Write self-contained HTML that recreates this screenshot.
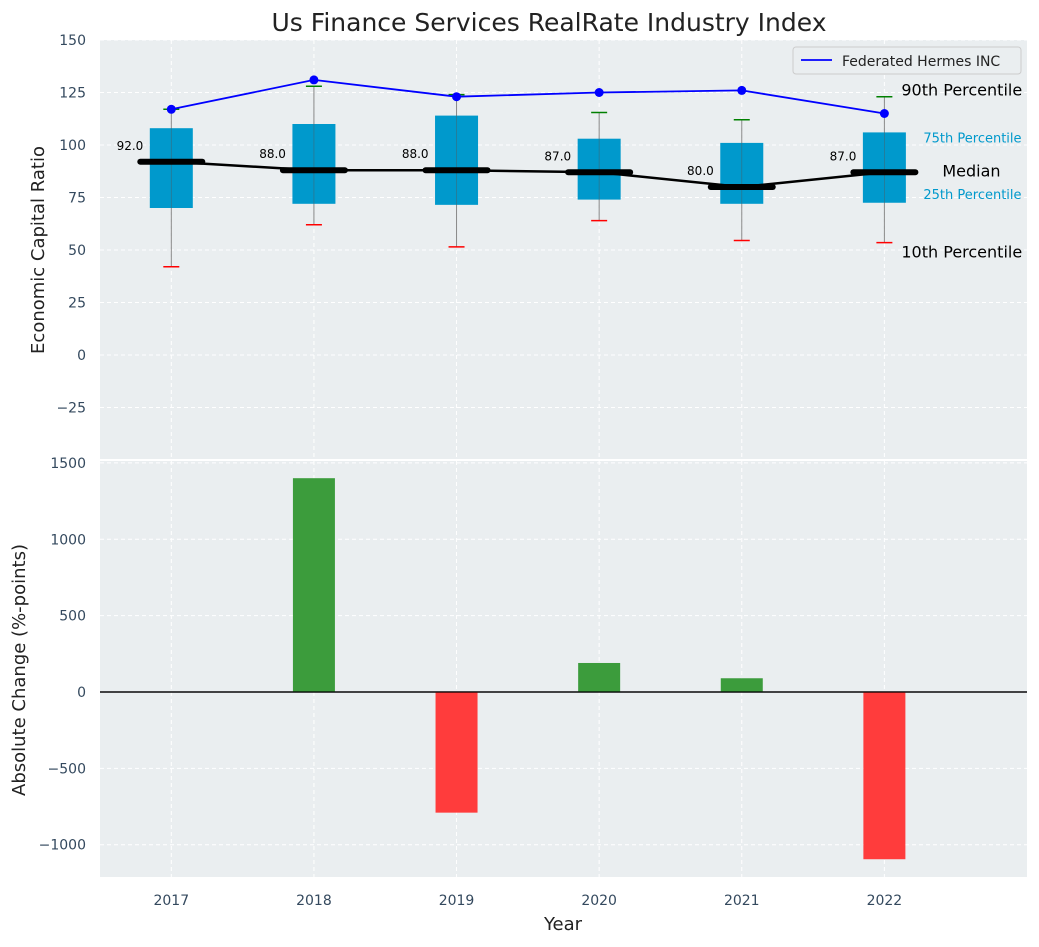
<!DOCTYPE html>
<html><head><meta charset="utf-8"><style>
body{margin:0;background:#fff;font-family:"Liberation Sans","DejaVu Sans",sans-serif}
</style></head><body>
<svg id="c" width="1039" height="942" xmlns="http://www.w3.org/2000/svg" font-family="DejaVu Sans, Liberation Sans, sans-serif"></svg>
<script>
const years=[2017,2018,2019,2020,2021,2022];
const q1=[70,72,71.5,74,72,72.5];
const q3=[108,110,114,103,101,106];
const med=[92,88,88,87,80,87];
const p10=[42,62,51.5,64,54.5,53.5];
const p90=[117,128,124,115.5,112,123];
const company=[117,131,123,125,126,115];
const changes=[0,1400,-790,190,90,-1095];
const topTicks=[150,125,100,75,50,25,0,-25];
const botTicks=[1500,1000,500,0,-500,-1000];

const svg=document.getElementById('c');
const NS='http://www.w3.org/2000/svg';
function mk(t,a,p){const e=document.createElementNS(NS,t);for(const k in a)e.setAttribute(k,a[k]);(p||svg).appendChild(e);return e;}
const L=100,R=1027;
const x=v=>L+(v-2016.5)/(2023-2016.5)*(R-L);
const yT=v=>355-v*2.1;
const yB=v=>692-v*0.15272;

let bg=mk('rect',{x:L,y:40,width:R-L,height:419,fill:'#eaeef0'});

let bg2=mk('rect',{x:L,y:461,width:R-L,height:416,fill:'#eaeef0'});


years.forEach(yr=>{mk('line',{x1:x(yr),x2:x(yr),y1:40,y2:459,stroke:'#fff','stroke-dasharray':'4,3','stroke-width':1});
mk('line',{x1:x(yr),x2:x(yr),y1:461,y2:877,stroke:'#fff','stroke-dasharray':'4,3','stroke-width':1});});
topTicks.forEach(t=>{mk('line',{x1:L,x2:R,y1:yT(t),y2:yT(t),stroke:'#fff','stroke-dasharray':'4,3'});
const tx=mk('text',{x:86,y:yT(t)+5,'text-anchor':'end','font-size':14,fill:'#34495e'});tx.textContent=t<0?'−'+(-t):t;
});
botTicks.forEach(t=>{mk('line',{x1:L,x2:R,y1:yB(t),y2:yB(t),stroke:'#fff','stroke-dasharray':'4,3'});
const tx=mk('text',{x:86,y:yB(t)+5,'text-anchor':'end','font-size':14,fill:'#34495e'});tx.textContent=t<0?'−'+(-t):t;
});

const bw=43;
years.forEach((yr,i)=>{const cx=x(yr);
mk('line',{x1:cx,x2:cx,y1:yT(p10[i]),y2:yT(p90[i]),stroke:'#888','stroke-width':1});
const b=mk('rect',{x:cx-bw/2,y:yT(q3[i]),width:bw,height:yT(q1[i])-yT(q3[i]),fill:'#0099cc'});

mk('line',{x1:cx,x2:cx,y1:yT(q1[i]),y2:yT(q3[i]),stroke:'#555','stroke-width':0.8,opacity:0.5});
mk('line',{x1:cx-8,x2:cx+8,y1:yT(p90[i]),y2:yT(p90[i]),stroke:'green','stroke-width':1.5});
mk('line',{x1:cx-8,x2:cx+8,y1:yT(p10[i]),y2:yT(p10[i]),stroke:'red','stroke-width':1.5});
});
mk('polyline',{points:years.map((yr,i)=>x(yr)+','+yT(med[i])).join(' '),fill:'none',stroke:'#000','stroke-width':2.5});
years.forEach((yr,i)=>{const cx=x(yr);
const m=mk('line',{x1:cx-31,x2:cx+31,y1:yT(med[i]),y2:yT(med[i]),stroke:'#000','stroke-width':6,'stroke-linecap':'round'});

const t=mk('text',{x:cx-28,y:yT(med[i])-12,'text-anchor':'end','font-size':12,fill:'#000'});t.textContent=med[i].toFixed(1);
});
mk('polyline',{points:years.map((yr,i)=>x(yr)+','+yT(company[i])).join(' '),fill:'none',stroke:'#0000ff','stroke-width':1.8});
years.forEach((yr,i)=>{const p=mk('circle',{cx:x(yr),cy:yT(company[i]),r:4.5,fill:'#0000ff'});
});

// legend
const lg=mk('g',{});
mk('rect',{x:793,y:47,width:228,height:27,rx:3,fill:'#eaeef0',stroke:'#ccc'},lg);
mk('line',{x1:801,x2:832,y1:60,y2:60,stroke:'#0000ff','stroke-width':1.8},lg);
let t=mk('text',{x:842,y:66,'font-size':14,fill:'#222'},lg);t.textContent='Federated Hermes INC';


const last=years.length-1,ax=x(years[last]);
[['90th Percentile',yT(p90[last])-1,16,'#000',ax+17],
 ['75th Percentile',yT(q3[last])+10,13,'#0099cc',ax+39],
 ['Median',yT(med[last])+4,16,'#000',ax+58],
 ['25th Percentile',yT(q1[last])-4,13,'#0099cc',ax+39],
 ['10th Percentile',yT(p10[last])+15,16,'#000',ax+17]].forEach(a=>{
const tt=mk('text',{x:a[4],y:a[1],'font-size':a[2],fill:a[3]});tt.textContent=a[0];
});

mk('line',{x1:L,x2:R,y1:yB(0),y2:yB(0),stroke:'#000','stroke-width':1.2});
years.forEach((yr,i)=>{const v=changes[i];if(!v)return;
const b=mk('rect',{x:x(yr)-21,y:Math.min(yB(v),yB(0)),width:42,height:Math.abs(yB(v)-yB(0)),fill:v>0?'#3c9c3c':'#ff3c3c'});
});
mk('line',{x1:L,x2:R,y1:yB(0),y2:yB(0),stroke:'#000','stroke-width':1.2});
years.forEach(yr=>{const tx=mk('text',{x:x(yr),y:905,'text-anchor':'middle','font-size':14,fill:'#34495e'});tx.textContent=yr;
});

t=mk('text',{x:549,y:31,'text-anchor':'middle','font-size':25,fill:'#222'});t.textContent='Us Finance Services RealRate Industry Index';

t=mk('text',{x:563,y:930,'text-anchor':'middle','font-size':18,fill:'#222'});t.textContent='Year';

t=mk('text',{x:0,y:0,'text-anchor':'middle','font-size':18,fill:'#222',transform:'translate(44,250) rotate(-90)'});t.textContent='Economic Capital Ratio';

t=mk('text',{x:0,y:0,'text-anchor':'middle','font-size':18,fill:'#222',transform:'translate(25,670) rotate(-90)'});t.textContent='Absolute Change (%-points)';

</script>
</body></html>
